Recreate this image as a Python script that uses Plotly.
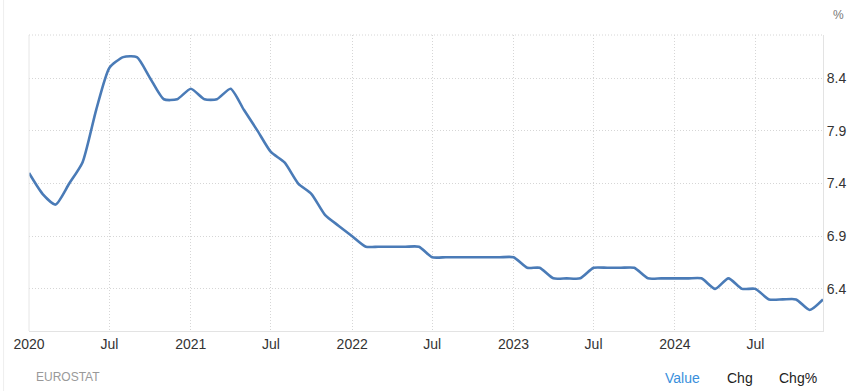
import plotly.graph_objects as go
import pandas as pd

# Monthly values, Jan 2020 .. Dec 2024 (%)
values_2020 = [7.5, 7.3, 7.2, 7.4, 7.6, 8.1, 8.5, 8.6, 8.6, 8.4, 8.2, 8.2]
values_2021 = [8.3, 8.2, 8.2, 8.3, 8.1, 7.9, 7.7, 7.6, 7.4, 7.3, 7.1, 7.0]
values_2022 = [6.9, 6.8, 6.8, 6.8, 6.8, 6.8, 6.7, 6.7, 6.7, 6.7, 6.7, 6.7]
values_2023 = [6.7, 6.6, 6.6, 6.5, 6.5, 6.5, 6.6, 6.6, 6.6, 6.6, 6.5, 6.5]
values_2024 = [6.5, 6.5, 6.5, 6.4, 6.5, 6.4, 6.4, 6.3, 6.3, 6.3, 6.2, 6.3]

values = values_2020 + values_2021 + values_2022 + values_2023 + values_2024
dates = pd.date_range("2020-01-01", periods=len(values), freq="MS")

x_tick_dates = ["2020-01-01", "2020-07-01", "2021-01-01", "2021-07-01", "2022-01-01",
                "2022-07-01", "2023-01-01", "2023-07-01", "2024-01-01", "2024-07-01"]
x_tick_labels = ["2020", "Jul", "2021", "Jul", "2022", "Jul", "2023", "Jul", "2024", "Jul"]
y_ticks = [6.4, 6.9, 7.4, 7.9, 8.4]

FONT = "Liberation Sans, Arial, sans-serif"
GRID_DASH = "1px,2px"

fig = go.Figure()
fig.add_trace(go.Scatter(
    x=dates, y=values, mode="lines",
    line=dict(color="#4a7bb7", width=2.6, shape="spline", smoothing=0.6),
    hoverinfo="skip", showlegend=False,
))

fig.update_layout(
    width=859, height=391,
    margin=dict(l=29, r=36, t=35, b=60),
    paper_bgcolor="white", plot_bgcolor="white",
    font=dict(family=FONT, size=14, color="#333333"),
    xaxis=dict(
        range=["2020-01-01", "2024-12-01"],
        tickvals=x_tick_dates, ticktext=x_tick_labels,
        showgrid=True, gridcolor="#d6d6d6", griddash=GRID_DASH, gridwidth=1,
        showline=True, linecolor="#e3e3e3", linewidth=1,
        ticks="", zeroline=False,
        tickfont=dict(size=14, color="#333333"),
    ),
    yaxis=dict(
        side="right", range=[6.0, 8.81],
        tickvals=y_ticks, ticktext=[f"{v:.1f}" for v in y_ticks],
        showgrid=True, gridcolor="#d6d6d6", griddash=GRID_DASH, gridwidth=1,
        showline=True, linecolor="#e3e3e3", linewidth=1,
        ticks="", zeroline=False,
        tickfont=dict(size=14, color="#333333"),
    ),
    shapes=[
        dict(type="line", xref="paper", yref="paper", x0=0, x1=1, y0=1, y1=1,
             line=dict(color="#d6d6d6", width=1, dash=GRID_DASH)),
        dict(type="line", xref="paper", yref="paper", x0=0, x1=0, y0=0, y1=1,
             line=dict(color="#e6e6e6", width=1)),
        dict(type="line", xref="paper", yref="paper", x0=-0.032, x1=-0.032, y0=-0.21, y1=1.12,
             line=dict(color="#eeeeee", width=1)),
    ],
    annotations=[
        dict(text="%", xref="paper", yref="paper", x=1.0, y=1.0, xshift=15, yshift=20,
             showarrow=False, font=dict(size=12, color="#777777"), xanchor="center", yanchor="middle"),
        dict(text="EUROSTAT", xref="paper", yref="paper", x=0, y=0, xshift=5, yshift=-46,
             showarrow=False, font=dict(size=12, color="#999999"), xanchor="left", yanchor="middle"),
        dict(text="Value", xref="paper", yref="paper", x=0, y=0, xshift=653, yshift=-47,
             showarrow=False, font=dict(size=14, color="#3a8fdc"), xanchor="center", yanchor="middle"),
        dict(text="Chg", xref="paper", yref="paper", x=0, y=0, xshift=711, yshift=-47,
             showarrow=False, font=dict(size=14, color="#222222"), xanchor="center", yanchor="middle"),
        dict(text="Chg%", xref="paper", yref="paper", x=0, y=0, xshift=769, yshift=-47,
             showarrow=False, font=dict(size=14, color="#222222"), xanchor="center", yanchor="middle"),
    ],
)

fig.write_html(
    "out.html",
    config={"displayModeBar": False},
    post_script="document.body.style.margin='0';document.body.style.overflow='hidden';",
)
